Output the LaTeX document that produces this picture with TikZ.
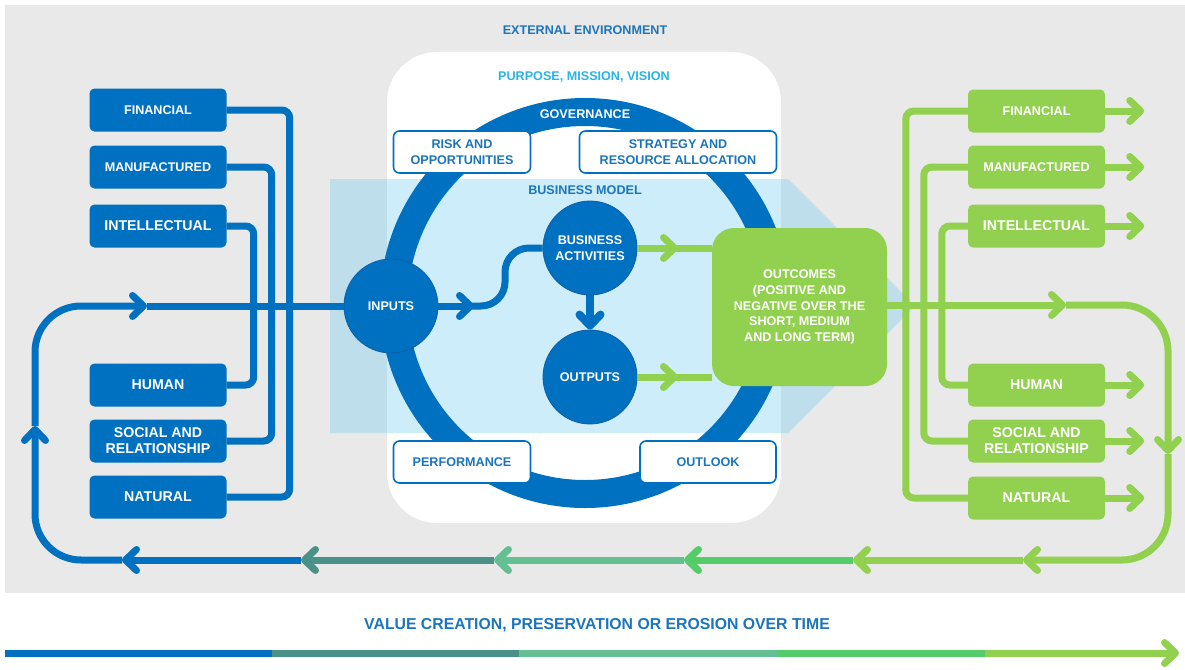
\documentclass[tikz,border=0pt]{standalone}
\usepackage{fontspec}
\setmainfont{Liberation Sans}
\usepackage{xcolor}
\usetikzlibrary{positioning,calc,arrows.meta,shapes}

\definecolor{capblue}{RGB}{0,112,192}
\definecolor{capdark}{RGB}{12,96,166}
\definecolor{txtblue}{RGB}{27,117,187}
\definecolor{skyblue}{RGB}{41,179,230}
\definecolor{capgreen}{RGB}{146,208,80}
\definecolor{tealA}{RGB}{74,145,136}
\definecolor{tealB}{RGB}{100,191,147}
\definecolor{greenB}{RGB}{85,204,106}
\definecolor{envgray}{RGB}{233,233,233}
\definecolor{bandblue}{RGB}{88,198,238}

\tikzset{
	capbox/.style={rectangle, rounded corners=5pt, minimum width=137pt, minimum height=43pt, inner sep=0pt, align=center, text=white},
	bluebox/.style={capbox, fill=capblue},
	greenbox/.style={capbox, fill=capgreen},
	bigcap/.style={font=\fontsize{14.2}{16}\selectfont\bfseries},
	govbox/.style={rectangle, rounded corners=6pt, draw=capblue, line width=1.6pt, fill=white, minimum height=42pt, inner sep=0pt, align=center, text=txtblue},
	bizcircle/.style={circle, fill=capblue, draw=capdark, line width=0.8pt, minimum size=94pt, inner sep=0pt, align=center, text=white},
	flow/.style={line width=7pt},
	chev/.style={-{Straight Barb[length=11pt,width=21pt,round]}}
}

\begin{document}
\begin{tikzpicture}[x=1pt,y=-1pt,font=\fontsize{12.6}{15.7}\selectfont\bfseries]
		\useasboundingbox (0,0) rectangle (1185,669);
		
		% external environment
		\fill[envgray] (5,5) rectangle (1185,593);
		\node[text=txtblue] (envtitle) at (585,30) {EXTERNAL ENVIRONMENT};
		
		\fill[white, rounded corners=50pt] (387,52) rectangle (781,523);
		\node[text=skyblue] (purpose) at (584,77) {PURPOSE, MISSION, VISION};
		
		% business model band
		\fill[bandblue, opacity=0.3] (330,179) -- (788,179) -- (915,306) -- (788,433) -- (330,433) -- cycle;
		
		% governance ring
		\draw[capblue, line width=28pt] (585,303) circle[radius=191pt];
		\node[text=white] (gov) at (585,114) {GOVERNANCE};
		
		\node[govbox, minimum width=137pt] (risk) at (462,152) {RISK AND\\OPPORTUNITIES};
		\node[govbox, minimum width=197pt] (strategy) at (678,152) {STRATEGY AND\\RESOURCE ALLOCATION};
		\node[govbox, minimum width=137pt] (perf) at (462,462) {PERFORMANCE};
		\node[govbox, minimum width=136pt] (outlook) at (708,462) {OUTLOOK};
		
		\node[text=txtblue] (bmodel) at (585,190) {BUSINESS MODEL};
		
		\node[bizcircle] (inputs) at (391,306) {INPUTS};
		\node[bizcircle] (activities) at (590,248) {BUSINESS\\ACTIVITIES};
		\node[bizcircle] (outputs) at (590,377) {OUTPUTS};
		
		\node[rectangle, rounded corners=22pt, fill=capgreen, minimum width=175pt, minimum height=158pt, align=center, text=white] (outcomes) at (799.5,307) {OUTCOMES\\(POSITIVE AND\\NEGATIVE OVER THE\\SHORT, MEDIUM\\AND LONG TERM)};
		
		% inside the model
		\draw[flow, capblue, chev] (inputs.east) -- (474,306);
		\draw[flow, capblue, rounded corners=24pt] (466,306) -- (505,306) -- (505,248) -- (activities.west);
		\draw[capblue, line width=8pt, chev] (activities.south) -- (outputs.north);
		
		\draw[flow, capgreen, chev] (activities.east) -- (678,248);
		\draw[flow, capgreen] (670,248) -- (activities.east -| outcomes.west);
		\draw[flow, capgreen, chev] (outputs.east) -- (678,377);
		\draw[flow, capgreen] (670,377) -- (outputs.east -| outcomes.west);
		
		% capitals in
		\node[bluebox] (lfin) at (158,110) {FINANCIAL};
		\node[bluebox] (lman) at (158,167) {MANUFACTURED};
		\node[bluebox, bigcap] (lint) at (158,226) {INTELLECTUAL};
		\node[bluebox, bigcap] (lhum) at (158,385) {HUMAN};
		\node[bluebox, bigcap] (lsoc) at (158,441) {SOCIAL AND\\RELATIONSHIP};
		\node[bluebox, bigcap] (lnat) at (158,497) {NATURAL};
		
		\draw[flow, capblue, rounded corners=8pt] (lfin.east) -- ++(63,0) |- (lnat.east);
		\draw[flow, capblue, rounded corners=8pt] (lman.east) -- ++(45,0) |- (lsoc.east);
		\draw[flow, capblue, rounded corners=8pt] (lint.east) -- ++(27,0) |- (lhum.east);
		
		% capitals out
		\node[greenbox] (rfin) at (1036.5,111) {FINANCIAL};
		\node[greenbox] (rman) at (1036.5,167) {MANUFACTURED};
		\node[greenbox, bigcap] (rint) at (1036.5,226) {INTELLECTUAL};
		\node[greenbox, bigcap] (rhum) at (1036.5,385) {HUMAN};
		\node[greenbox, bigcap] (rsoc) at (1036.5,441) {SOCIAL AND\\RELATIONSHIP};
		\node[greenbox, bigcap] (rnat) at (1036.5,498) {NATURAL};
		
		\draw[flow, capgreen, rounded corners=8pt] (rfin.west) -- ++(-62,0) |- (rnat.west);
		\draw[flow, capgreen, rounded corners=8pt] (rman.west) -- ++(-44,0) |- (rsoc.west);
		\draw[flow, capgreen, rounded corners=8pt] (rint.west) -- ++(-26,0) |- (rhum.west);
		
		\foreach \cap in {rfin,rman,rint,rhum,rsoc,rnat}
			\draw[flow, capgreen, chev] (\cap.east) -- ++(39,0);
		
		% the loop
		\coordinate (rtip) at (1066,305);
		\coordinate (rdown) at (1168,454);
		\coordinate (gmid) at (1023,560);
		\coordinate (blime) at (853,560);
		\coordinate (bgreen) at (684,560);
		\coordinate (bseaB) at (494,560);
		\coordinate (bteal) at (301,560);
		\coordinate (btip) at (122,560);
		\coordinate (lup) at (35,426);
		\coordinate (ltip) at (147,306);
		
		\draw[flow, capgreen, chev] (outcomes.east |- rtip) -- (rtip);
		\draw[flow, capgreen, chev, rounded corners=46pt] (rtip) -- (1168,305) -- (rdown);
		\draw[flow, capgreen, chev, rounded corners=46pt] (rdown) -- (1168,560) -- (gmid);
		
		\draw[flow, capblue, chev] (bteal) -- (btip);
		\draw[flow, capblue, chev, rounded corners=46pt] (btip) -- (35,560) -- (lup);
		\draw[flow, capblue, chev, rounded corners=46pt] (lup) -- (35,306) -- (ltip);
		\draw[flow, capblue] (ltip) -- (inputs.west);
		\draw[flow, tealA, chev] (bseaB) -- (bteal);
		\draw[flow, tealB, chev] (bgreen) -- (bseaB);
		\draw[flow, greenB, chev] (blime) -- (bgreen);
		\draw[flow, capgreen, chev] (gmid) -- (blime);
		
		% value over time
		\node[text=txtblue, font=\fontsize{15.8}{18}\selectfont\bfseries] (vtitle) at (597,625) {VALUE CREATION, PRESERVATION OR EROSION OVER TIME};
		
		\draw[flow, capblue] (5,653) -- (272,653);
		\draw[flow, tealA] (272,653) -- (519,653);
		\draw[flow, tealB] (519,653) -- (777,653);
		\draw[flow, greenB] (777,653) -- (985,653);
		\draw[flow, capgreen, chev] (985,653) -- (1179,653);
\end{tikzpicture}
\end{document}
